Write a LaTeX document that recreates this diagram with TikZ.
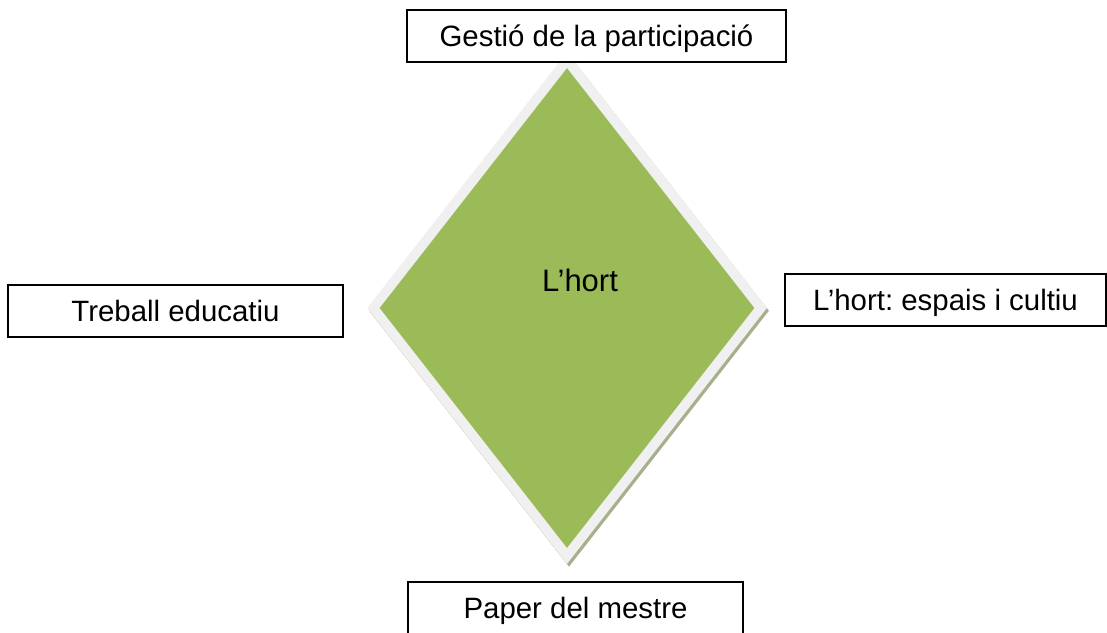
\documentclass[tikz,border=0pt]{standalone}
\usepackage{fontspec}
\setmainfont{Liberation Sans}
\usetikzlibrary{shapes.geometric,shadows}
\definecolor{hortgreen}{RGB}{155,187,89}
\definecolor{hortrim}{RGB}{240,240,240}
\definecolor{hortshadow}{RGB}{166,176,140}
\frenchspacing
\begin{document}
\begin{tikzpicture}[x=0.5pt,y=-0.5pt,
  topic/.style={draw=black,line width=1pt,fill=white,inner sep=0pt,text depth=0pt,
    minimum height=26pt,font=\fontsize{14.7pt}{17pt}\selectfont},
  rim/.style={diamond,fill=hortrim,inner sep=0pt,
    drop shadow={shadow xshift=1pt,shadow yshift=-1.4pt,fill=hortshadow,opacity=1}},
  core/.style={diamond,fill=hortgreen,inner sep=0pt}]
\useasboundingbox (0,0) rectangle (1107,632);

\node[rim,minimum width=200pt,minimum height=256pt] (rim) at (567,308) {};
\node[core,minimum width=187.5pt,minimum height=240pt] (hort) at (567,308) {};
\node[font=\fontsize{15.5pt}{18pt}\selectfont] (hortlabel) at (580,280) {L’hort};

\node[topic,minimum width=189.5pt] (gestio) at (596.5,35.5) {Gestió de la participació};
\node[topic,minimum width=167.5pt] (treball) at (175.5,311) {Treball educatiu};
\node[topic,minimum width=160.5pt] (espais) at (945.5,300) {L’hort: espais i cultiu};
\node[topic,minimum width=167.5pt] (paper) at (575.5,608) {Paper del mestre};
\end{tikzpicture}
\end{document}
